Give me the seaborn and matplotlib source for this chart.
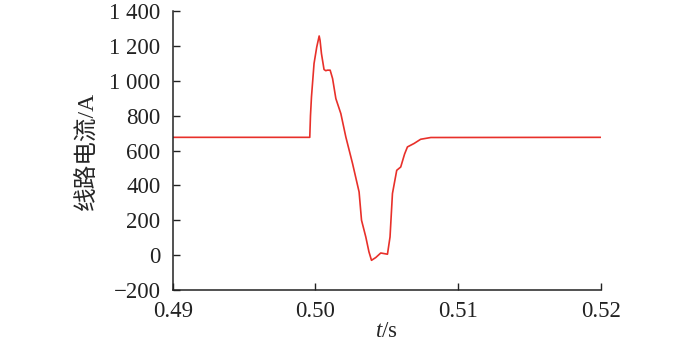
import seaborn as sns
import matplotlib.pyplot as plt
import pandas as pd

t = [0.490, 0.4996, 0.49965, 0.49972, 0.4999, 0.50009, 0.50026, 0.50032, 0.50042,
     0.5006, 0.50072, 0.50084, 0.50103, 0.5012, 0.50143, 0.50178, 0.50213,
     0.5026, 0.50306, 0.50323, 0.50353, 0.50375, 0.50393, 0.50423, 0.50458,
     0.50505, 0.50523, 0.5054, 0.5057, 0.50598, 0.50625, 0.50645, 0.50692,
     0.50738, 0.50809, 0.520]
current = [676, 676, 800, 908, 1099, 1194, 1257, 1233, 1156,
           1065, 1058, 1061, 1061, 1013, 898, 812, 678,
           526, 363, 201, 105, 20, -29, -13, 13,
           6, 105, 354, 487, 506, 580, 621, 641,
           665, 675, 676]

x_ticks = [0.49, 0.50, 0.51, 0.52]
x_labels = ['0.49', '0.50', '0.51', '0.52']
y_ticks = [-200, 0, 200, 400, 600, 800, 1000, 1200, 1400]
y_labels = ['\u2212200', '0', '200', '400', '600', '800', '1 000', '1 200', '1 400']

sns.set_style('ticks')
plt.rcParams['font.family'] = ['Liberation Serif', 'Noto Sans CJK SC']
plt.rcParams['mathtext.fontset'] = 'custom'
plt.rcParams['mathtext.rm'] = 'Liberation Serif'
plt.rcParams['mathtext.it'] = 'Liberation Serif:italic'
plt.rcParams['xtick.direction'] = 'in'
plt.rcParams['ytick.direction'] = 'in'

df = pd.DataFrame({'t': t, 'i': current})

fig = plt.figure(figsize=(7, 3.45), dpi=100)
ax = fig.add_axes([0.247, 0.159, 0.611, 0.809])
sns.lineplot(data=df, x='t', y='i', color='#e8302a', linewidth=1.2, ax=ax)

ax.set_xlim(0.49, 0.52)
ax.set_ylim(-200, 1400)
ax.set_xticks(x_ticks)
ax.set_xticklabels(x_labels, fontsize=16.5)
ax.set_yticks(y_ticks)
ax.set_yticklabels(y_labels, fontsize=16.5)
ax.tick_params(axis='y', length=5, width=1, colors='#222222', pad=9)
ax.tick_params(axis='x', length=5, width=1, colors='#222222', pad=8)
for s in ['top', 'right']:
    ax.spines[s].set_visible(False)
for s in ['left', 'bottom']:
    ax.spines[s].set_linewidth(1.1)
    ax.spines[s].set_color('#222222')

ax.set_xlabel('$t$/s', fontsize=16.5, labelpad=-1)
ax.set_ylabel('线路电流/A', fontsize=17, labelpad=8)

fig.savefig('out.png', dpi=100)
